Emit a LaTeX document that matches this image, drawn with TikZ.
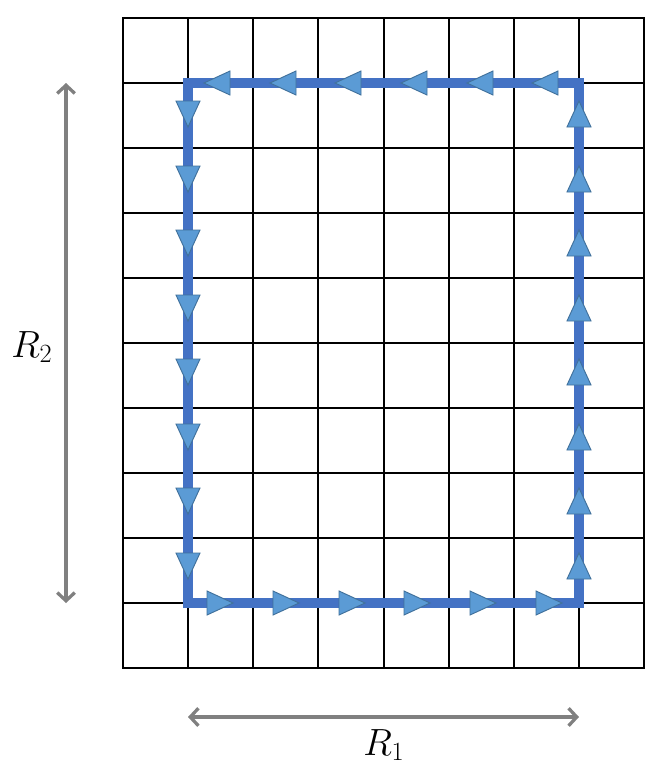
\documentclass[tikz,border=0pt]{standalone}
\usetikzlibrary{arrows.meta}
\definecolor{pathblue}{HTML}{4472C4}
\definecolor{trifill}{HTML}{5B9BD5}
\definecolor{triedge}{HTML}{41719C}
\definecolor{dimgray}{HTML}{808080}
\begin{document}
\begin{tikzpicture}[x=0.03cm,y=-0.03cm,
  gridline/.style={line width=1.7pt, black},
  loopline/.style={line width=8.5pt, pathblue, miter limit=10},
  dimline/.style={line width=2.8pt, dimgray, {Straight Barb[length=7pt,width=15pt]}-{Straight Barb[length=7pt,width=15pt]}},
  lab/.style={font=\fontsize{25}{30}\selectfont, scale=1.3, transform shape},
  tri/.pic={\filldraw[fill=trifill, draw=triedge, line width=0.8pt, line join=miter] (13,0) -- (-13,12) -- (-13,-12) -- cycle;}]
\useasboundingbox (0,0) rectangle (661,780);
% grid
\foreach \i in {1,...,7} \draw[gridline] ({123+\i*65.125},18) -- ({123+\i*65.125},668);
\foreach \j in {1,...,9} \draw[gridline] (123,{18+\j*65}) -- (644,{18+\j*65});
\draw[gridline] (123,18) rectangle (644,668);
% loop
\coordinate (A) at (188,83);
\coordinate (B) at (579,83);
\coordinate (C) at (579,603);
\coordinate (D) at (188,603);
\draw[loopline] (A) -- (D) -- (C) -- (B) -- cycle;
\foreach \x in {217,283,348,414,480,545} \pic[rotate=180] at (\x,83) {tri};
\foreach \y in {114,179,243,308,372,437,501,566} \pic[rotate=270] at (188,\y) {tri};
\foreach \x in {220,286,352,417,483,549} \pic at (\x,603) {tri};
\foreach \y in {114,179,243,308,372,437,501,566} \pic[rotate=90] at (579,\y) {tri};
% dimensions
\coordinate (v1) at (66,83);
\coordinate (v2) at (66,603);
\coordinate (h1) at (188,717);
\coordinate (h2) at (579,717);
\draw[dimline] (v1) -- (v2);
\draw[dimline] (h1) -- (h2);
\node[lab] (r2) at (32,347) {$R_2$};
\node[lab] (r1) at (384,745) {$R_1$};
\end{tikzpicture}
\end{document}
